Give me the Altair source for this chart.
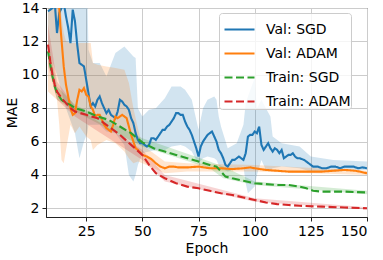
import altair as alt
import pandas as pd

SERIES = ["Val: SGD", "Val: ADAM", "Train: SGD", "Train: ADAM"]
COLORS = ["#1f77b4", "#ff7f0e", "#2ca02c", "#d62728"]
DASHES = [[1, 0], [1, 0], [8, 3.5], [8, 3.5]]

# ---- Val: SGD ----
sgd_val_ep = [8, 10, 11, 12, 13, 14, 15, 16, 17, 18, 19, 20, 21, 22, 23, 24, 25, 26, 27, 28, 29, 30,
              31, 32, 33, 34, 35, 36, 37, 38, 39, 40, 41, 42, 43, 44, 45, 46, 47, 48, 49, 50, 51, 52,
              53, 54, 55, 56, 57, 58, 59, 60, 61, 62, 63, 64, 65, 66, 67, 68, 69, 70, 71, 72, 73, 74,
              75, 76, 77, 78, 79, 80, 81, 82, 83, 84, 85, 86, 87, 88, 89, 90, 91, 92, 93, 94, 95, 96,
              97, 98, 99, 100, 101, 102, 103, 104, 105, 106, 107, 108, 109, 110, 111, 112, 113, 114,
              115, 116, 117, 118, 119, 120, 122, 124, 126, 128, 130, 132, 134, 136, 138, 140, 142,
              144, 146, 148, 150]
sgd_val = [13.8, 14.0, 14.3, 12.5, 13.7, 14.0, 14.3, 13.5, 12.8, 11.9, 13.9, 13.2, 11.8, 10.7, 10.6,
           10.5, 9.7, 8.9, 8.1, 8.3, 8.1, 8.5, 8.7, 8.3, 8.0, 7.7, 7.9, 7.6, 7.5, 7.4, 7.8, 8.5, 8.4,
           8.2, 8.1, 7.9, 7.4, 7.1, 6.5, 6.1, 5.9, 5.9, 5.8, 5.7, 5.8, 6.2, 6.2, 6.1, 6.3, 6.5, 6.7,
           6.7, 6.9, 7.0, 7.2, 7.4, 7.7, 7.7, 7.6, 7.6, 7.2, 6.9, 6.7, 6.4, 6.0, 5.6, 5.1, 5.7, 6.0,
           6.2, 6.4, 6.5, 6.6, 6.3, 6.0, 5.5, 5.3, 5.0, 4.6, 4.5, 4.7, 4.9, 4.9, 5.0, 5.1, 5.0, 4.9,
           5.3, 6.3, 6.4, 6.4, 6.6, 6.5, 6.9, 5.8, 5.5, 5.7, 5.9, 5.6, 5.4, 5.6, 5.5, 5.3, 5.5, 5.0,
           5.1, 5.2, 5.2, 5.3, 5.1, 5.0, 5.0, 4.9, 4.7, 4.5, 4.5, 4.4, 4.4, 4.5, 4.5, 4.4, 4.5, 4.5,
           4.5, 4.4, 4.45, 4.4]

# ---- Val: ADAM ----
adam_val_ep = [13, 13.5, 14, 15, 16, 17, 18, 19, 20, 21, 22, 23, 24, 25, 26, 27, 28, 29, 30, 31, 32,
               33, 34, 35, 36, 37, 38, 39, 40, 41, 42, 43, 44, 45, 46, 47, 48, 50, 52, 54, 56, 58,
               60, 62, 64, 66, 70, 75, 80, 85, 90, 95, 98, 100, 105, 110, 115, 120, 125, 130, 135,
               140, 145, 150]
adam_val = [14.0, 12.9, 12.1, 10.5, 9.4, 8.7, 8.0, 7.6, 7.7, 8.5, 9.1, 9.0, 9.2, 8.8, 8.7, 8.1, 7.9,
            7.5, 7.6, 7.6, 7.3, 7.0, 6.8, 6.7, 6.6, 7.0, 7.5, 7.4, 7.5, 7.6, 7.5, 7.4, 6.9, 6.4, 6.0,
            5.6, 5.5, 5.2, 5.1, 4.95, 4.7, 4.5, 4.4, 4.5, 4.5, 4.45, 4.45, 4.5, 4.4, 4.4, 4.35, 4.4,
            4.45, 4.4, 4.3, 4.25, 4.2, 4.2, 4.2, 4.2, 4.25, 4.3, 4.25, 4.1]

# ---- Train: SGD ----
sgd_tr_ep = [8, 9, 10, 11, 12, 13, 14, 16, 18, 20, 25, 30, 35, 40, 45, 50, 55, 60, 65, 70, 75, 80,
             83, 85, 87, 90, 95, 100, 105, 110, 115, 120, 123, 126, 130, 140, 150]
sgd_tr = [11.4, 10.6, 9.9, 9.3, 8.9, 8.7, 8.5, 8.3, 8.2, 8.0, 7.8, 7.5, 7.3, 6.9, 6.5, 5.95, 5.6,
          5.4, 5.2, 5.0, 4.8, 4.6, 4.5, 4.2, 3.9, 3.8, 3.65, 3.5, 3.45, 3.4, 3.4, 3.3, 3.2, 3.05,
          3.0, 3.0, 2.95]

# ---- Train: ADAM ----
adam_tr_ep = [8, 9, 10, 11, 12, 13, 14, 16, 18, 20, 25, 30, 35, 40, 45, 50, 53, 56, 60, 65, 70, 75,
              80, 85, 90, 95, 100, 105, 110, 115, 120, 130, 140, 150]
adam_tr = [11.8, 10.8, 10.0, 9.4, 9.0, 8.8, 8.6, 8.3, 8.0, 7.8, 7.6, 7.4, 6.9, 6.4, 5.8, 5.2, 4.6,
           4.1, 3.8, 3.5, 3.3, 3.2, 3.05, 2.9, 2.8, 2.65, 2.5, 2.35, 2.25, 2.2, 2.15, 2.1, 2.05, 2.0]

# ---- shaded bands (lower, upper) ----
sgd_band_ep = [8, 12, 16, 20, 22, 24, 25.5, 26, 28, 31, 34, 38, 42, 44, 46, 47, 48, 50, 53, 56, 60,
               63, 67, 69, 72, 74, 75, 77, 79, 82, 83, 84, 85, 88, 92, 95, 96, 97, 100, 101, 103,
               105, 107, 108, 112, 120, 125, 135, 150]
sgd_band_lo = [11.5, 10.0, 8.0, 6.5, 5.0, 6.0, 6.5, 7.0, 7.0, 7.0, 6.6, 6.5, 5.8, 4.0, 3.6, 4.0,
               4.6, 5.3, 5.4, 5.5, 5.5, 5.7, 5.8, 5.7, 5.4, 4.9, 4.7, 5.0, 5.1, 5.0, 4.9, 4.6, 4.4,
               4.2, 4.4, 4.5, 3.5, 2.9, 3.3, 4.0, 4.9, 4.3, 4.3, 4.4, 4.5, 4.4, 4.2, 4.2, 4.3]
sgd_band_hi = [15, 15, 15, 15, 15, 15, 15, 11.5, 10.7, 10.7, 9.9, 11.3, 11.7, 11.4, 11.1, 11.0, 8.0,
               7.5, 7.9, 8.0, 8.6, 9.3, 9.3, 9.1, 8.5, 7.3, 6.7, 8.0, 8.5, 8.7, 8.5, 7.5, 6.9, 5.6,
               5.9, 7.0, 8.3, 8.7, 9.8, 8.0, 8.5, 8.0, 7.5, 6.3, 5.9, 5.7, 5.1, 4.9, 4.8]

adam_band_ep = [8, 12, 13, 14, 15, 16, 18, 20, 22, 25, 27, 28, 30, 34, 38, 42, 44, 46, 48, 50, 55,
                60, 70, 100, 150]
adam_band_lo = [9.0, 8.5, 7.0, 4.9, 4.7, 5.5, 7.0, 6.5, 6.9, 6.3, 6.1, 5.5, 5.8, 6.1, 5.9, 5.4, 5.0,
                4.7, 4.8, 4.7, 4.4, 4.1, 4.2, 4.2, 4.0]
adam_band_hi = [15, 15, 15, 13.5, 12.5, 12.0, 11.9, 11.9, 11.9, 11.9, 11.9, 10.7, 10.6, 10.5, 10.4,
                10.3, 9.5, 8.0, 6.8, 5.8, 5.3, 4.8, 4.7, 4.6, 4.25]

sgd_tr_band_ep = [8, 12, 20, 50, 80, 86, 100, 150]
sgd_tr_band_lo = [10.8, 8.5, 7.8, 5.7, 4.4, 3.8, 3.4, 2.85]
sgd_tr_band_hi = [12.0, 9.3, 8.2, 6.2, 4.8, 4.5, 3.6, 3.05]

adam_tr_band_ep = [8, 12, 20, 50, 60, 100, 150]
adam_tr_band_lo = [10.5, 8.5, 7.5, 4.9, 3.6, 2.4, 1.93]
adam_tr_band_hi = [13.0, 9.6, 8.1, 5.5, 4.0, 2.6, 2.07]

X_TICKS = [25, 50, 75, 100, 125, 150]
Y_TICKS = [2, 4, 6, 8, 10, 12, 14]

lines = []
for name, ep, val in [(SERIES[0], sgd_val_ep, sgd_val), (SERIES[1], adam_val_ep, adam_val),
                      (SERIES[2], sgd_tr_ep, sgd_tr), (SERIES[3], adam_tr_ep, adam_tr)]:
    for e, v in zip(ep, val):
        lines.append({"series": name, "epoch": e, "mae": v})
lines_df = pd.DataFrame(lines)

bands = []
for name, ep, lo, hi in [(SERIES[0], sgd_band_ep, sgd_band_lo, sgd_band_hi),
                         (SERIES[1], adam_band_ep, adam_band_lo, adam_band_hi),
                         (SERIES[2], sgd_tr_band_ep, sgd_tr_band_lo, sgd_tr_band_hi),
                         (SERIES[3], adam_tr_band_ep, adam_tr_band_lo, adam_tr_band_hi)]:
    for e, a, b in zip(ep, lo, hi):
        bands.append({"series": name, "epoch": e, "lo": a, "hi": b})
bands_df = pd.DataFrame(bands)

FONT = "DejaVu Sans"
xscale = alt.Scale(domain=[7.1, 150], nice=False, zero=False)
yscale = alt.Scale(domain=[1.48, 14], nice=False, zero=False)

xaxis = alt.Axis(values=X_TICKS, title="Epoch", grid=True)
yaxis = alt.Axis(values=Y_TICKS, title="MAE", grid=True)

band_layers = []
for name, col in zip(SERIES, COLORS):
    band_layers.append(
        alt.Chart(bands_df).transform_filter(alt.datum.series == name)
        .mark_area(color=col, opacity=0.2, clip=True, interpolate="linear")
        .encode(x=alt.X("epoch:Q", scale=xscale, axis=xaxis),
                y=alt.Y("lo:Q", scale=yscale, axis=yaxis),
                y2="hi:Q")
    )

legend = alt.Legend(orient="none", legendX=173, legendY=5, title=None,
                    symbolType="stroke", symbolSize=900, symbolStrokeWidth=2.1,
                    symbolOffset=4,
                    labelFontSize=14, labelFont=FONT, labelColor="#000000",
                    fillColor="rgba(255,255,255,0.8)", strokeColor="#cccccc",
                    cornerRadius=3, padding=0, rowPadding=-5, labelOffset=10)

line_layer = alt.Chart(lines_df).mark_line(strokeWidth=2.1, clip=True).encode(
    x=alt.X("epoch:Q", scale=xscale, axis=xaxis),
    y=alt.Y("mae:Q", scale=yscale, axis=yaxis),
    color=alt.Color("series:N", scale=alt.Scale(domain=SERIES, range=COLORS), legend=legend),
    strokeDash=alt.StrokeDash("series:N", scale=alt.Scale(domain=SERIES, range=DASHES), legend=legend),
    order=alt.Order("epoch:Q"),
)

chart = alt.layer(*band_layers, line_layer).properties(
    width=321, height=209,
    autosize=alt.AutoSizeParams(type="none"),
    padding={"left": 46, "top": 8, "right": 16, "bottom": 43},
).configure_view(stroke="#222222", strokeWidth=1).configure_axis(
    labelFont=FONT, titleFont=FONT, labelFontSize=14, titleFontSize=14,
    titleFontWeight="normal", labelColor="#000000", titleColor="#000000",
    gridColor="#cccccc", gridWidth=1, tickColor="#222222", tickSize=4,
    domainColor="#222222", labelPadding=3,
).configure_axisX(titlePadding=3).configure_axisY(titlePadding=2)

chart.save("out.html", embed_options={"renderer": "svg", "actions": False})
